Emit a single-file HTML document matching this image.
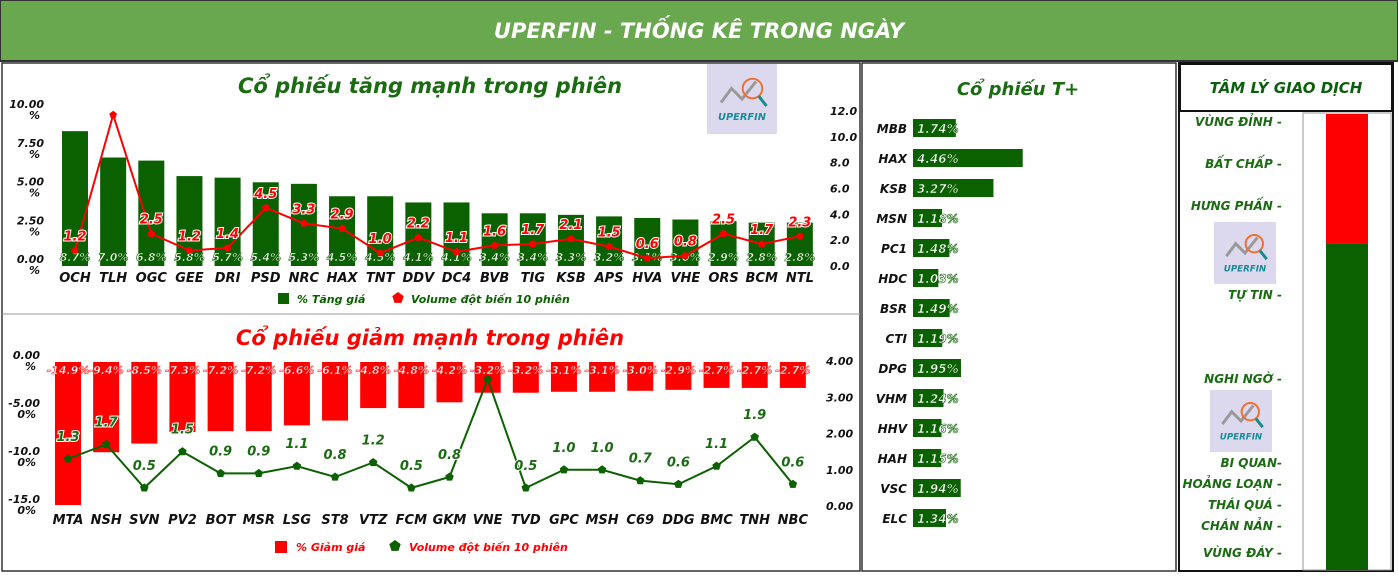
<!DOCTYPE html>
<html><head><meta charset="utf-8"><style>
body{margin:0;width:1398px;height:575px;overflow:hidden;background:#fff;font-family:"Liberation Sans","DejaVu Sans",sans-serif}
svg text{font-family:"Verdana","DejaVu Sans","Liberation Sans",sans-serif;font-weight:bold;font-style:italic}
</style></head><body>
<svg id="s" width="1398" height="575" xmlns="http://www.w3.org/2000/svg">
<rect x="0" y="0" width="1398" height="61" fill="#6aa84f" stroke="#333" stroke-width="2"/>
<text x="699" y="38" text-anchor="middle" fill="#fff" font-size="21">UPERFIN - THỐNG KÊ TRONG NGÀY</text>
<rect x="2" y="63" width="858" height="508" fill="#fff" stroke="#333" stroke-width="1.5"/>
<line x1="2" y1="314" x2="860" y2="314" stroke="#999"/>
<rect x="862" y="63" width="314" height="508" fill="#fff" stroke="#333" stroke-width="1.5"/>
<rect x="1179" y="63" width="214" height="508" fill="#fff" stroke="#111" stroke-width="2"/>
<rect x="1180" y="64" width="212" height="47" fill="#fff" stroke="#111" stroke-width="2"/>
<text x="1286" y="93" text-anchor="middle" fill="#0b5e0b" font-size="15">TÂM LÝ GIAO DỊCH</text>
<text x="430" y="93" text-anchor="middle" fill="#1b6b12" font-size="21">Cổ phiếu tăng mạnh trong phiên</text>
<text x="430" y="345" text-anchor="middle" fill="#f00" font-size="21">Cổ phiếu giảm mạnh trong phiên</text>
<text x="1018" y="95" text-anchor="middle" fill="#1b6b12" font-size="18">Cổ phiếu  T+</text>
<g id="g1"></g><g id="g2"></g><g id="g3"></g><g id="g4"></g>
</svg>
<script>
const upCats=["OCH","TLH","OGC","GEE","DRI","PSD","NRC","HAX","TNT","DDV","DC4","BVB","TIG","KSB","APS","HVA","VHE","ORS","BCM","NTL"];
const upPct=[8.7,7.0,6.8,5.8,5.7,5.4,5.3,4.5,4.5,4.1,4.1,3.4,3.4,3.3,3.2,3.1,3.0,2.9,2.8,2.8];
const upVol=[1.2,11.7,2.5,1.2,1.4,4.5,3.3,2.9,1.0,2.2,1.1,1.6,1.7,2.1,1.5,0.6,0.8,2.5,1.7,2.3];
const upLeftTicks=["0.00","2.50","5.00","7.50","10.00"];
const upRightTicks=["0.0","2.0","4.0","6.0","8.0","10.0","12.0"];
const dnCats=["MTA","NSH","SVN","PV2","BOT","MSR","LSG","ST8","VTZ","FCM","GKM","VNE","TVD","GPC","MSH","C69","DDG","BMC","TNH","NBC"];
const dnPct=[-14.9,-9.4,-8.5,-7.3,-7.2,-7.2,-6.6,-6.1,-4.8,-4.8,-4.2,-3.2,-3.2,-3.1,-3.1,-3.0,-2.9,-2.7,-2.7,-2.7];
const dnVol=[1.3,1.7,0.5,1.5,0.9,0.9,1.1,0.8,1.2,0.5,0.8,3.5,0.5,1.0,1.0,0.7,0.6,1.1,1.9,0.6];
const dnLeftTicks=["0.00","-5.00","-10.0","-15.0"];
const dnRightTicks=["0.00","1.00","2.00","3.00","4.00"];
const tpCats=["MBB","HAX","KSB","MSN","PC1","HDC","BSR","CTI","DPG","VHM","HHV","HAH","VSC","ELC"];
const tpVals=[1.74,4.46,3.27,1.18,1.48,1.03,1.49,1.19,1.95,1.24,1.16,1.15,1.94,1.34];
const moodLabels=["VÙNG ĐỈNH -","BẤT CHẤP -","HƯNG PHẤN -","TỰ TIN -","NGHI NGỜ -","BI QUAN-","HOẢNG LOẠN -","THÁI QUÁ -","CHÁN NẢN -","VÙNG ĐÁY -"];
const moodValue=71.5;

const NS="http://www.w3.org/2000/svg";
function el(p,t,a,txt){const e=document.createElementNS(NS,t);for(const k in a)e.setAttribute(k,a[k]);if(txt!==undefined)e.textContent=txt;p.appendChild(e);return e;}
function logo(p,x,y,s){const g=el(p,'g',{});
el(g,'rect',{x:x,y:y,width:s,height:s,fill:'#dcd9ee'});
el(g,'polyline',{points:`${x+s*.2},${y+s*.55} ${x+s*.35},${y+s*.35} ${x+s*.5},${y+s*.5} ${x+s*.7},${y+s*.25}`,fill:'none',stroke:'#999',"stroke-width":3});
el(g,'circle',{cx:x+s*.65,cy:y+s*.35,r:s*.14,fill:'none',stroke:'#f07030',"stroke-width":2});
el(g,'line',{x1:x+s*.74,y1:y+s*.46,x2:x+s*.85,y2:y+s*.6,stroke:'#1a8a8a',"stroke-width":3});
el(g,'text',{x:x+s/2,y:y+s*.8,"text-anchor":"middle","font-size":s*.14,fill:'#1a8a9a',"font-style":"normal"},'UPERFIN');}
function pentagon(cx,cy,r){let p=[];for(let i=0;i<5;i++){const a=-Math.PI/2+i*2*Math.PI/5;p.push((cx+r*Math.cos(a)).toFixed(1)+','+(cy+r*Math.sin(a)).toFixed(1));}return p.join(' ');}

// Chart 1
const g1=document.getElementById('g1');
const x1=i=>75+i*38.15, y1p=v=>266-v*15.5, y1v=v=>266-v*12.92;
upLeftTicks.forEach((t,i)=>{const y=y1p(i*2.5);const e=el(g1,'text',{x:44,y:y-3,"text-anchor":"end","font-size":11,fill:'#111'},t);el(g1,'text',{x:40,y:y+8,"text-anchor":"end","font-size":11,fill:'#111'},'%');});
upRightTicks.forEach((t,i)=>{const e=el(g1,'text',{x:830,y:y1v(i*2)+4,"font-size":11,fill:'#111',"font-style":"normal"},t);});
upPct.forEach((v,i)=>{const b=el(g1,'rect',{x:x1(i)-13,y:y1p(v),width:26,height:y1p(0)-y1p(v),fill:'#0b6100'});
el(g1,'text',{x:x1(i),y:261,"text-anchor":"middle","font-size":11,fill:'#fff',stroke:'#0b6100',"stroke-width":0.6},v.toFixed(1)+'%');
const c=el(g1,'text',{x:x1(i),y:282,"text-anchor":"middle","font-size":13,fill:'#111'},upCats[i]);});
const l1=el(g1,'polyline',{points:upVol.map((v,i)=>x1(i)+','+y1v(v)).join(' '),fill:'none',stroke:'#f00',"stroke-width":2});
upVol.forEach((v,i)=>{const p=el(g1,'polygon',{points:pentagon(x1(i),y1v(v),4),fill:'#f00'});
if(i!==1)el(g1,'text',{x:x1(i),y:y1v(v)-10,"text-anchor":"middle","font-size":13,fill:'#f00',stroke:'#fff',"stroke-width":2,"paint-order":"stroke"},v.toFixed(1));});
let lg=el(g1,'g',{});
el(lg,'rect',{x:278,y:293,width:11,height:11,fill:'#0b6100'});el(lg,'text',{x:297,y:303,"font-size":11,fill:'#0b6100'},'% Tăng giá');
el(lg,'polygon',{points:pentagon(398,298,6),fill:'#f00'});el(lg,'text',{x:411,y:303,"font-size":11,fill:'#0b6100'},'Volume đột biến 10 phiên');
logo(g1,707,64,70);

// Chart 2
const g2=document.getElementById('g2');
const x2=i=>68+i*38.15, y2p=v=>362-v*9.6, y2v=v=>506-v*36.25;
dnLeftTicks.forEach((t,i)=>{const y=y2p(-i*5);const e=el(g2,'text',{x:40,y:y-3,"text-anchor":"end","font-size":11,fill:'#111'},t);el(g2,'text',{x:36,y:y+8,"text-anchor":"end","font-size":11,fill:'#111'},i?'0%':'%');});
dnRightTicks.forEach((t,i)=>{const e=el(g2,'text',{x:826,y:y2v(i)+4,"font-size":11,fill:'#111',"font-style":"normal"},t);});
dnPct.forEach((v,i)=>{const b=el(g2,'rect',{x:x2(i)-13,y:y2p(0),width:26,height:y2p(v)-y2p(0),fill:'#f00'});
el(g2,'text',{x:x2(i),y:374,"text-anchor":"middle","font-size":11,fill:'#fff',stroke:'#f00',"stroke-width":0.5},v.toFixed(1)+'%');
const c=el(g2,'text',{x:x2(i),y:524,"text-anchor":"middle","font-size":13,fill:'#111'},dnCats[i]);});
const l2=el(g2,'polyline',{points:dnVol.map((v,i)=>x2(i)+','+y2v(v)).join(' '),fill:'none',stroke:'#0b6100',"stroke-width":2});
dnVol.forEach((v,i)=>{const p=el(g2,'polygon',{points:pentagon(x2(i),y2v(v),4.5),fill:'#0b6100'});
if(i!==11)el(g2,'text',{x:x2(i),y:y2v(v)-18,"text-anchor":"middle","font-size":13,fill:'#1b6b12',stroke:'#fff',"stroke-width":2,"paint-order":"stroke"},v.toFixed(1));});
lg=el(g2,'g',{});
el(lg,'rect',{x:275,y:541,width:12,height:12,fill:'#f00'});el(lg,'text',{x:296,y:551,"font-size":11,fill:'#f00'},'% Giảm giá');
el(lg,'polygon',{points:pentagon(395,546,6),fill:'#0b6100'});el(lg,'text',{x:409,y:551,"font-size":11,fill:'#f00'},'Volume đột biến 10 phiên');

// T+ list
const g3=document.getElementById('g3');
tpVals.forEach((v,i)=>{const y=128+i*30;
const t=el(g3,'text',{x:907,y:y+5,"text-anchor":"end","font-size":12,fill:'#111'},tpCats[i]);
const b=el(g3,'rect',{x:913,y:y-9,width:v*24.6,height:18,fill:'#0b6100'});
el(g3,'text',{x:917,y:y+5,"font-size":12,fill:'#fff',stroke:'#0b6100',"stroke-width":0.6},v.toFixed(2)+'%');});

// Sentiment gauge
const g4=document.getElementById('g4');
const ym=v=>570-v*4.56;
el(g4,'rect',{x:1303,y:113,width:88,height:457,fill:'#fff',stroke:'#999'});
let r=el(g4,'rect',{x:1326,y:ym(100),width:42,height:ym(moodValue)-ym(100),fill:'#f00'});
r=el(g4,'rect',{x:1326,y:ym(moodValue),width:42,height:ym(0)-ym(moodValue),fill:'#0b6100'});
const moodY=[122,164,206,295,379,463,484,505,526,553];
moodLabels.forEach((t,i)=>{const e=el(g4,'text',{x:1282,y:moodY[i]+4,"text-anchor":"end","font-size":12,fill:'#1b6b12'},t);});
logo(g4,1214,222,62);logo(g4,1210,390,62);
</script>
</body></html>
